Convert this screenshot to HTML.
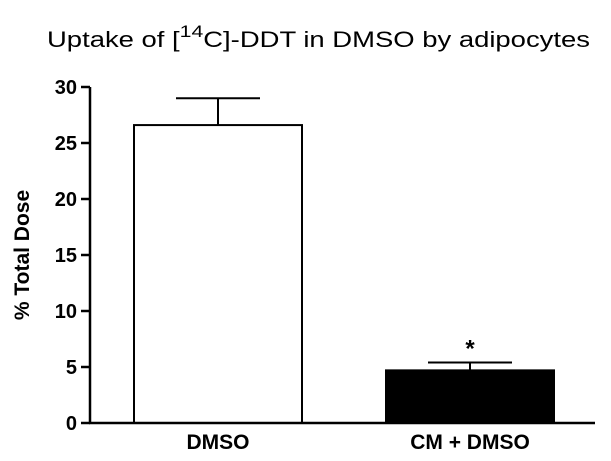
<!DOCTYPE html>
<html><head><meta charset="utf-8"><style>
html,body{margin:0;padding:0;background:#fff;}
svg{display:block;font-family:"Liberation Sans",Arial,sans-serif;}
</style></head><body>
<svg id="chart" width="611" height="461" viewBox="0 0 611 461" xmlns="http://www.w3.org/2000/svg">
<text x="47" y="47" font-size="22" textLength="543" lengthAdjust="spacingAndGlyphs">Uptake of [<tspan font-size="17" dy="-10">14</tspan><tspan dy="10">C]-DDT in DMSO by adipocytes</tspan></text>
<text transform="translate(29,255) rotate(-90)" text-anchor="middle" font-size="21" font-weight="bold">% Total Dose</text>
<g id="plot"></g>
</svg>
<script>
const categories = ["DMSO", "CM + DMSO"];
const values = [26.6, 4.7];
const errors = [2.4, 0.7];
const fills = ["#fff", "#000"];
const yTicks = [0, 5, 10, 15, 20, 25, 30];
const sig = ["", "*"];

const NS = "http://www.w3.org/2000/svg";
const g = document.getElementById("plot");
const x0 = 90, x1 = 595, yBase = 423, yTop = 87, yMax = 30;
const y = v => yBase - (v / yMax) * (yBase - yTop);
const barW = 168;
const centers = [218, 470];
const xc = i => centers[i];
function mk(tag, attrs, text){
  const e = document.createElementNS(NS, tag);
  for (const k in attrs) e.setAttribute(k, attrs[k]);
  if (text !== undefined) e.textContent = text;
  g.appendChild(e); return e;
}
categories.forEach((c, i) => {
  const top = y(values[i]), et = y(values[i] + errors[i]);
  let l = mk("line", {x1: xc(i), x2: xc(i), y1: top, y2: et, stroke: "#000", "stroke-width": 2});
  
  
  let cap = mk("line", {x1: xc(i) - 42, x2: xc(i) + 42, y1: et, y2: et, stroke: "#000", "stroke-width": 2});
  
  
  let r = mk("rect", {x: xc(i) - barW / 2, y: top, width: barW, height: yBase - top, fill: fills[i], stroke: "#000", "stroke-width": 2});
  
  
  let t = mk("text", {x: xc(i), y: 449, "text-anchor": "middle", "font-size": 21, "font-weight": "bold"}, c);
  
  
  if (sig[i]) {
    let s = mk("text", {x: xc(i), y: et - 6, "text-anchor": "middle", "font-size": 24, "font-weight": "bold"}, sig[i]);
    
    
  }
});
yTicks.forEach(v => {
  let tk = mk("line", {x1: 81, x2: x0, y1: y(v), y2: y(v), stroke: "#000", "stroke-width": 2.5});
  
  
  let tl = mk("text", {x: 77, y: y(v) + 7, "text-anchor": "end", "font-size": 20, "font-weight": "bold"}, String(v));
  
  
});
let ya = mk("line", {x1: x0, x2: x0, y1: yTop, y2: yBase + 1, stroke: "#000", "stroke-width": 2.5});


let xa = mk("line", {x1: x0 - 1, x2: x1, y1: yBase, y2: yBase, stroke: "#000", "stroke-width": 2.5});


</script>
</body></html>
